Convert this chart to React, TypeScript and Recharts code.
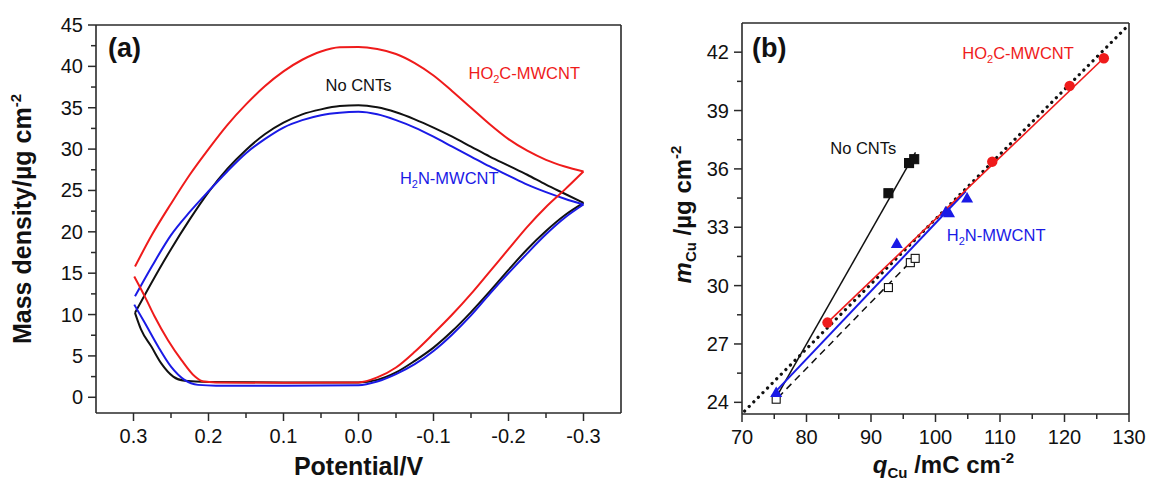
import React from "react";
import { ComposedChart, Line, Scatter, XAxis, YAxis, ReferenceDot } from "recharts";

const FONT = "'Liberation Sans', Arial, Helvetica, sans-serif";
const RED = "#ef1b1b";
const BLUE = "#1a1ae6";
const INK = "#111";
const AXIS = "#2a2a2a";

// ---- panel (a): mass density vs potential, each loop split in two branches ----
// [potential V, mass density µg cm-2]
const noCntUpper = [
  [0.298, 10.2], [0.275, 14.0], [0.25, 17.9], [0.225, 21.5], [0.2, 24.8], [0.175, 27.6],
  [0.15, 29.9], [0.125, 31.8], [0.1, 33.2], [0.075, 34.2], [0.05, 34.8], [0.025, 35.2],
  [0.0, 35.3], [-0.025, 35.05], [-0.05, 34.45], [-0.075, 33.6], [-0.1, 32.6], [-0.125, 31.5],
  [-0.15, 30.3], [-0.175, 29.1], [-0.2, 28.0], [-0.225, 26.9], [-0.25, 25.7], [-0.275, 24.6],
  [-0.3, 23.5],
];
const noCntLower = [
  [0.298, 10.2], [0.29, 8.2], [0.276, 6.1], [0.263, 4.1], [0.247, 2.5], [0.232, 2.0],
  [0.2, 1.85], [0.1, 1.8], [0.0, 1.8], [-0.025, 2.1], [-0.05, 3.0], [-0.075, 4.4],
  [-0.1, 6.0], [-0.125, 8.0], [-0.15, 10.3], [-0.175, 12.8], [-0.2, 15.4], [-0.225, 17.9],
  [-0.25, 20.1], [-0.275, 22.0], [-0.3, 23.5],
];
const ho2cUpper = [
  [0.298, 15.8], [0.275, 19.7], [0.25, 23.4], [0.225, 26.9], [0.2, 30.0], [0.175, 32.9],
  [0.15, 35.4], [0.125, 37.6], [0.1, 39.4], [0.075, 40.8], [0.05, 41.8], [0.025, 42.3],
  [0.0, 42.35], [-0.025, 42.1], [-0.05, 41.5], [-0.075, 40.4], [-0.1, 38.9], [-0.125, 37.0],
  [-0.15, 35.0], [-0.175, 33.0], [-0.2, 31.2], [-0.225, 29.8], [-0.25, 28.7], [-0.275, 27.9],
  [-0.3, 27.3],
];
const ho2cLower = [
  [0.299, 14.6], [0.285, 12.2], [0.272, 9.8], [0.254, 6.9], [0.236, 4.5], [0.218, 2.5],
  [0.207, 1.9], [0.19, 1.8], [0.1, 1.75], [0.0, 1.8], [-0.025, 2.4], [-0.05, 3.6],
  [-0.075, 5.5], [-0.1, 7.7], [-0.125, 10.0], [-0.15, 12.5], [-0.175, 15.2], [-0.2, 17.9],
  [-0.225, 20.6], [-0.25, 23.0], [-0.275, 25.1], [-0.3, 27.3],
];
const h2nUpper = [
  [0.298, 12.2], [0.275, 15.9], [0.25, 19.6], [0.225, 22.4], [0.2, 24.9], [0.175, 27.3],
  [0.15, 29.5], [0.125, 31.2], [0.1, 32.6], [0.075, 33.5], [0.05, 34.1], [0.025, 34.4],
  [0.0, 34.5], [-0.025, 34.2], [-0.05, 33.5], [-0.075, 32.6], [-0.1, 31.5], [-0.125, 30.3],
  [-0.15, 29.1], [-0.175, 27.9], [-0.2, 26.8], [-0.225, 25.7], [-0.25, 24.8], [-0.275, 24.0],
  [-0.3, 23.3],
];
const h2nLower = [
  [0.299, 11.2], [0.285, 9.0], [0.267, 6.1], [0.25, 3.7], [0.232, 2.1], [0.214, 1.5],
  [0.19, 1.4], [0.1, 1.4], [0.0, 1.45], [-0.025, 1.9], [-0.05, 2.8], [-0.075, 4.0],
  [-0.1, 5.6], [-0.125, 7.6], [-0.15, 9.9], [-0.175, 12.5], [-0.2, 15.0], [-0.225, 17.4],
  [-0.25, 19.7], [-0.275, 21.7], [-0.3, 23.3],
];
const aTicksX = [0.3, 0.25, 0.2, 0.15, 0.1, 0.05, 0, -0.05, -0.1, -0.15, -0.2, -0.25, -0.3];
const aTicksY = [0, 2.5, 5, 7.5, 10, 12.5, 15, 17.5, 20, 22.5, 25, 27.5, 30, 32.5, 35, 37.5, 40, 42.5, 45];

// ---- panel (b): deposited mass vs charge ----
// [q mC cm-2, m µg cm-2]
const noCntPts = [[92.7, 34.75], [95.9, 36.3], [96.7, 36.5]];
const noCntFit = [[75.3, 24.25], [96.9, 36.85]];
const openPts = [[75.3, 24.16], [92.7, 29.9], [96.1, 31.18], [96.85, 31.4]];
const openFit = [[75.6, 24.25], [95.9, 31.15]];
const h2nPts = [[75.3, 24.5], [94.0, 32.17], [101.6, 33.8], [102.1, 33.75], [104.9, 34.5]];
const h2nFit = [[75.2, 24.55], [104.7, 34.85]];
const ho2cPts = [[83.25, 28.1], [108.8, 36.37], [120.8, 40.27], [126.1, 41.69]];
const ho2cFit = [[83.25, 28.1], [126.1, 41.7]];
const faradayLine = [[70.4, 23.55], [129.8, 43.35]];
const bTicksX = [70, 75, 80, 85, 90, 95, 100, 105, 110, 115, 120, 125, 130];
const bTicksY = [24, 25.5, 27, 28.5, 30, 31.5, 33, 34.5, 36, 37.5, 39, 40.5, 42];

const pts = (a: number[][]) => a.map(([x, y]) => ({ x, y }));
const near = (v: number, step: number) => Math.abs(v / step - Math.round(v / step)) < 1e-6;

const bottomTick = (step: number, fmt: (v: number) => string) => (p: any) => {
  const v = p.payload.value;
  const major = near(v, step);
  return (
    <g>
      <line x1={p.x} x2={p.x} y1={p.y} y2={p.y + (major ? 8 : 5)} stroke={AXIS} strokeWidth={1.5} />
      {major && (
        <text x={p.x} y={p.y + 30} textAnchor="middle" fontSize={20} fontFamily={FONT} fill={INK}>
          {fmt(v)}
        </text>
      )}
    </g>
  );
};

const leftTick = (step: number) => (p: any) => {
  const v = p.payload.value;
  const major = near(v, step);
  return (
    <g>
      <line x1={p.x} x2={p.x - (major ? 8 : 5)} y1={p.y} y2={p.y} stroke={AXIS} strokeWidth={1.5} />
      {major && (
        <text x={p.x - 13} y={p.y + 7} textAnchor="end" fontSize={20} fontFamily={FONT} fill={INK}>
          {String(v)}
        </text>
      )}
    </g>
  );
};

const note = (content: React.ReactNode, color: string, anchor: string = "middle", size = 16.5, bold = false) =>
  (p: any) => (
    <text x={p.cx} y={p.cy} textAnchor={anchor} fontSize={size} fontWeight={bold ? 700 : 400} fontFamily={FONT} fill={color}>
      {content}
    </text>
  );

const ho2cLabel = <>HO<tspan fontSize={11} dy={4}>2</tspan><tspan dy={-4}>C-MWCNT</tspan></>;
const h2nLabel = <>H<tspan fontSize={11} dy={4}>2</tspan><tspan dy={-4}>N-MWCNT</tspan></>;

const square = (filled: boolean, s: number) => (p: any) => (
  <rect x={p.cx - s / 2} y={p.cy - s / 2} width={s} height={s} fill={filled ? INK : "#fff"} stroke={INK} strokeWidth={1.1} />
);
const triangle = (p: any) => (
  <path d={`M${p.cx},${p.cy - 6} L${p.cx + 6},${p.cy + 4.5} L${p.cx - 6},${p.cy + 4.5} Z`} fill={BLUE} />
);
const circle = (p: any) => <circle cx={p.cx} cy={p.cy} r={5.2} fill={RED} />;

const frame = { stroke: AXIS, strokeWidth: 1.6 };

function PanelA() {
  const line = (data: number[][], color: string, k: string) => (
    <Line key={k} data={pts(data)} dataKey="y" type="monotone" stroke={color} strokeWidth={2}
      dot={false} activeDot={false} isAnimationActive={false} />
  );
  return (
    <ComposedChart width={640} height={481} margin={{ top: 24, right: 18, bottom: 67, left: 95 }}>
      <XAxis dataKey="x" type="number" domain={[-0.35, 0.35]} reversed allowDataOverflow ticks={aTicksX}
        interval={0} height={1} tickSize={0} tickMargin={0} tickLine={false}
        axisLine={frame} tick={bottomTick(0.1, (v) => v.toFixed(1))}
        label={(p: any) => {
          const vb = p.viewBox;
          return (
            <text x={vb.x + vb.width / 2} y={vb.y + 62} textAnchor="middle" fontSize={25} fontWeight={700} fontFamily={FONT} fill={INK}>
              Potential/V
            </text>
          );
        }} />
      <XAxis xAxisId="top" orientation="top" type="number" domain={[-0.35, 0.35]} reversed height={1}
        tick={false} tickLine={false} axisLine={frame} />
      <YAxis dataKey="y" type="number" domain={[-1.9, 45]} allowDataOverflow ticks={aTicksY} interval={0}
        width={1} tickSize={0} tickMargin={0} tickLine={false}
        axisLine={frame} tick={leftTick(5)}
        label={(p: any) => {
          const vb = p.viewBox;
          const cx = vb.x + vb.width - 65;
          const cy = vb.y + vb.height / 2;
          return (
            <text x={cx} y={cy} transform={`rotate(-90 ${cx} ${cy})`} textAnchor="middle" fontSize={25} fontWeight={700} fontFamily={FONT} fill={INK}>
              Mass density/µg cm<tspan fontSize={15} dy={-10}>-2</tspan>
            </text>
          );
        }} />
      <YAxis yAxisId="right" orientation="right" type="number" domain={[-1.9, 45]} width={1}
        tick={false} tickLine={false} axisLine={frame} />
      {line(noCntUpper, INK, "nu")}
      {line(noCntLower, INK, "nl")}
      {line(h2nUpper, BLUE, "bu")}
      {line(h2nLower, BLUE, "bl")}
      {line(ho2cUpper, RED, "ru")}
      {line(ho2cLower, RED, "rl")}
      <ReferenceDot x={0.334} y={41.1} r={0} ifOverflow="visible" shape={note("(a)", INK, "start", 27, true)} />
      <ReferenceDot x={0.0} y={37.0} r={0} ifOverflow="visible" shape={note("No CNTs", INK)} />
      <ReferenceDot x={-0.221} y={38.45} r={0} ifOverflow="visible" shape={note(ho2cLabel, RED)} />
      <ReferenceDot x={-0.121} y={25.75} r={0} ifOverflow="visible" shape={note(h2nLabel, BLUE)} />
    </ComposedChart>
  );
}

function PanelB() {
  const fit = (data: number[][], color: string, k: string, width: number, dash?: string, cap?: "round") => (
    <Line key={k} data={pts(data)} dataKey="y" type="linear" stroke={color} strokeWidth={width}
      strokeDasharray={dash} strokeLinecap={cap} dot={false} activeDot={false} isAnimationActive={false} />
  );
  return (
    <ComposedChart width={509} height={481} margin={{ top: 22, right: 19, bottom: 66, left: 101 }}>
      <XAxis dataKey="x" type="number" domain={[70, 130]} allowDataOverflow ticks={bTicksX} interval={0}
        height={1} tickSize={0} tickMargin={0} tickLine={false}
        axisLine={frame} tick={bottomTick(10, (v) => String(v))}
        label={(p: any) => {
          const vb = p.viewBox;
          return (
            <text x={vb.x + vb.width / 2 + 8} y={vb.y + 59} textAnchor="middle" fontSize={24} fontWeight={700} fontFamily={FONT} fill={INK}>
              <tspan fontStyle="italic">q</tspan>
              <tspan fontSize={15} dy={5}>Cu</tspan>
              <tspan dy={-5}> /mC cm</tspan>
              <tspan fontSize={15} dy={-10}>-2</tspan>
            </text>
          );
        }} />
      <XAxis xAxisId="top" orientation="top" type="number" domain={[70, 130]} height={1}
        tick={false} tickLine={false} axisLine={frame} />
      <YAxis dataKey="y" type="number" domain={[23.4, 43.5]} allowDataOverflow ticks={bTicksY} interval={0}
        width={1} tickSize={0} tickMargin={0} tickLine={false}
        axisLine={frame} tick={leftTick(3)}
        label={(p: any) => {
          const vb = p.viewBox;
          const cx = vb.x + vb.width - 51;
          const cy = vb.y + vb.height / 2 - 4;
          return (
            <text x={cx} y={cy} transform={`rotate(-90 ${cx} ${cy})`} textAnchor="middle" fontSize={24} fontWeight={700} fontFamily={FONT} fill={INK}>
              <tspan fontStyle="italic">m</tspan>
              <tspan fontSize={15} dy={5}>Cu</tspan>
              <tspan dy={-5}> /µg cm</tspan>
              <tspan fontSize={15} dy={-10}>-2</tspan>
            </text>
          );
        }} />
      <YAxis yAxisId="right" orientation="right" type="number" domain={[23.4, 43.5]} width={1}
        tick={false} tickLine={false} axisLine={frame} />
      {fit(faradayLine, INK, "far", 3.2, "0.1 6.4", "round")}
      {fit(noCntFit, INK, "nf", 1.5)}
      {fit(openFit, INK, "of", 1.5, "7 5")}
      {fit(h2nFit, BLUE, "bf", 2)}
      {fit(ho2cFit, RED, "rf", 1.6)}
      <Scatter data={pts(openPts)} shape={square(false, 8)} isAnimationActive={false} />
      <Scatter data={pts(noCntPts)} shape={square(true, 9)} isAnimationActive={false} />
      <Scatter data={pts(h2nPts)} shape={triangle} isAnimationActive={false} />
      <Scatter data={pts(ho2cPts)} shape={circle} isAnimationActive={false} />
      <ReferenceDot x={71.55} y={41.73} r={0} ifOverflow="visible" shape={note("(b)", INK, "start", 27, true)} />
      <ReferenceDot x={88.8} y={36.77} r={0} ifOverflow="visible" shape={note("No CNTs", INK)} />
      <ReferenceDot x={112.8} y={41.66} r={0} ifOverflow="visible" shape={note(ho2cLabel, RED)} />
      <ReferenceDot x={109.4} y={32.3} r={0} ifOverflow="visible" shape={note(h2nLabel, BLUE)} />
    </ComposedChart>
  );
}

export default function App() {
  return (
    <div style={{ position: "absolute", left: 0, top: 0, width: 1149, height: 481, background: "#fff", fontFamily: FONT }}>
      <div style={{ position: "absolute", left: 0, top: 0 }}>
        <PanelA />
      </div>
      <div style={{ position: "absolute", left: 640, top: 0 }}>
        <PanelB />
      </div>
    </div>
  );
}
